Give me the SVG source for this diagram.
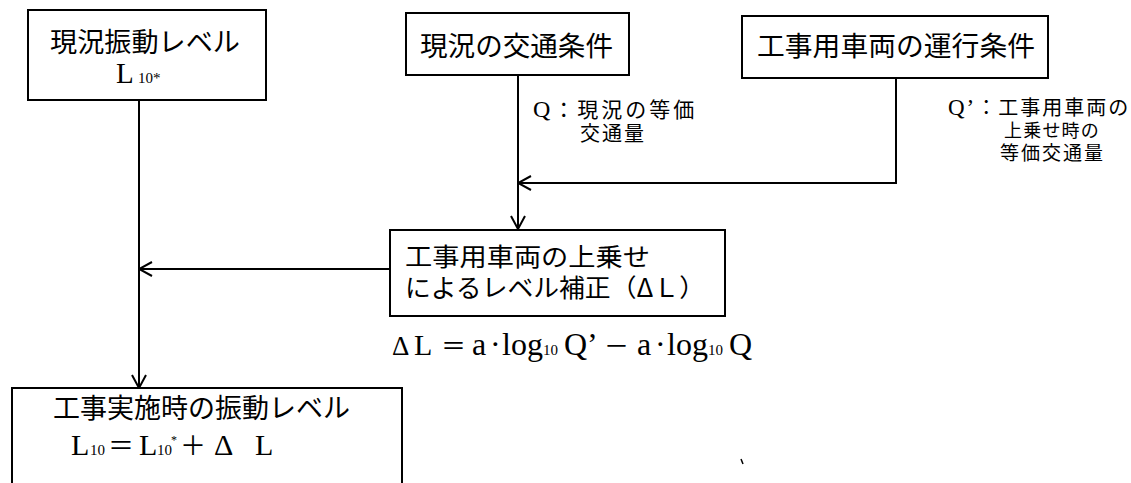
<svg xmlns="http://www.w3.org/2000/svg" width="1131" height="483" viewBox="0 0 1131 483">
<style>
.box{fill:#fff;stroke:#000;stroke-width:2}
.jp{font-family:"Noto Sans CJK JP","Noto Sans CJK SC",sans-serif;fill:#000}
.lt{font-family:"Liberation Serif","Noto Sans CJK JP",serif;fill:#000}
.conn{fill:none;stroke:#000;stroke-width:2}
</style>
<defs>
<marker id="arr" viewBox="0 0 16 16" refX="15" refY="8" markerWidth="16" markerHeight="16" markerUnits="userSpaceOnUse" orient="auto">
<path d="M2,1 L15,8 L2,15" fill="none" stroke="#000" stroke-width="2"/>
</marker>
</defs>
<rect width="1131" height="483" fill="#fff"/>
<g id="connectors">
<line class="conn" x1="139" y1="100" x2="139" y2="388" marker-end="url(#arr)"/>
<line class="conn" x1="518" y1="75" x2="518" y2="229" marker-end="url(#arr)"/>
<polyline class="conn" points="896,78 896,183 518,183" marker-end="url(#arr)"/>
<line class="conn" x1="390" y1="269" x2="139" y2="269" marker-end="url(#arr)"/>
</g>
<g id="node-current-vibration">
<rect class="box" x="28" y="10" width="238" height="90"/>
<text class="jp" x="50" y="52" font-size="27" textLength="190" lengthAdjust="spacingAndGlyphs">現況振動レベル</text>
<text class="lt" y="83" font-size="29"><tspan x="116">L</tspan><tspan x="138" font-size="15">10*</tspan></text>
</g>
<g id="node-current-traffic">
<rect class="box" x="406" y="13" width="223" height="62"/>
<text class="jp" x="420" y="56" font-size="27" textLength="193" lengthAdjust="spacingAndGlyphs">現況の交通条件</text>
</g>
<g id="node-construction-traffic">
<rect class="box" x="742" y="16" width="306" height="62"/>
<text class="jp" x="757" y="56" font-size="27" textLength="278" lengthAdjust="spacingAndGlyphs">工事用車両の運行条件</text>
</g>
<g id="label-q">
<text class="jp" font-size="21"><tspan x="533" y="117" letter-spacing="3"><tspan class="lt" font-size="24">Q</tspan>：現況の等価</tspan><tspan x="580" y="141" font-size="20" letter-spacing="2">交通量</tspan></text>
</g>
<g id="label-q-prime">
<text class="jp" font-size="20"><tspan x="948" y="115" letter-spacing="2"><tspan class="lt" font-size="23">Q’</tspan>：工事用車両の</tspan><tspan x="1004" y="137" font-size="18" letter-spacing="1.2">上乗せ時の</tspan><tspan x="1000" y="160" font-size="19" letter-spacing="2">等価交通量</tspan></text>
</g>
<g id="node-level-correction">
<rect class="box" x="390" y="230" width="335" height="86"/>
<text class="jp" x="405" y="266" font-size="25" textLength="245" lengthAdjust="spacingAndGlyphs">工事用車両の上乗せ</text>
<text class="jp" x="405" y="297" font-size="25" textLength="300" lengthAdjust="spacingAndGlyphs">によるレベル補正（ΔＬ）</text>
</g>
<g id="formula">
<text class="lt" y="355" font-size="32"><tspan x="392" font-size="27">Δ</tspan><tspan x="414" font-size="30">L</tspan><tspan x="441" class="jp" font-size="25">＝</tspan><tspan x="472">a</tspan><tspan x="490">·</tspan><tspan x="502">log</tspan><tspan x="543" font-size="15">10</tspan><tspan x="564">Q’</tspan><tspan x="604" class="jp" font-size="25">－</tspan><tspan x="637">a</tspan><tspan x="655">·</tspan><tspan x="667">log</tspan><tspan x="708" font-size="15">10</tspan><tspan x="729">Q</tspan></text>
</g>
<g id="node-construction-vibration">
<rect class="box" x="12" y="388" width="390" height="100"/>
<text class="jp" x="53" y="418" font-size="27" textLength="297" lengthAdjust="spacingAndGlyphs">工事実施時の振動レベル</text>
<text class="lt" y="455" font-size="30"><tspan x="71">L</tspan><tspan x="90" font-size="15">10</tspan><tspan x="108" class="jp" font-size="26">＝</tspan><tspan x="139">L</tspan><tspan x="157" font-size="15">10</tspan><tspan x="171" y="444" font-size="12">*</tspan><tspan x="180" y="455" class="jp" font-size="26">＋</tspan><tspan x="214">Δ</tspan><tspan x="255">L</tspan></text>
</g>
<path d="M741,459 L743,464" stroke="#000" stroke-width="1.5"/>
</svg>
